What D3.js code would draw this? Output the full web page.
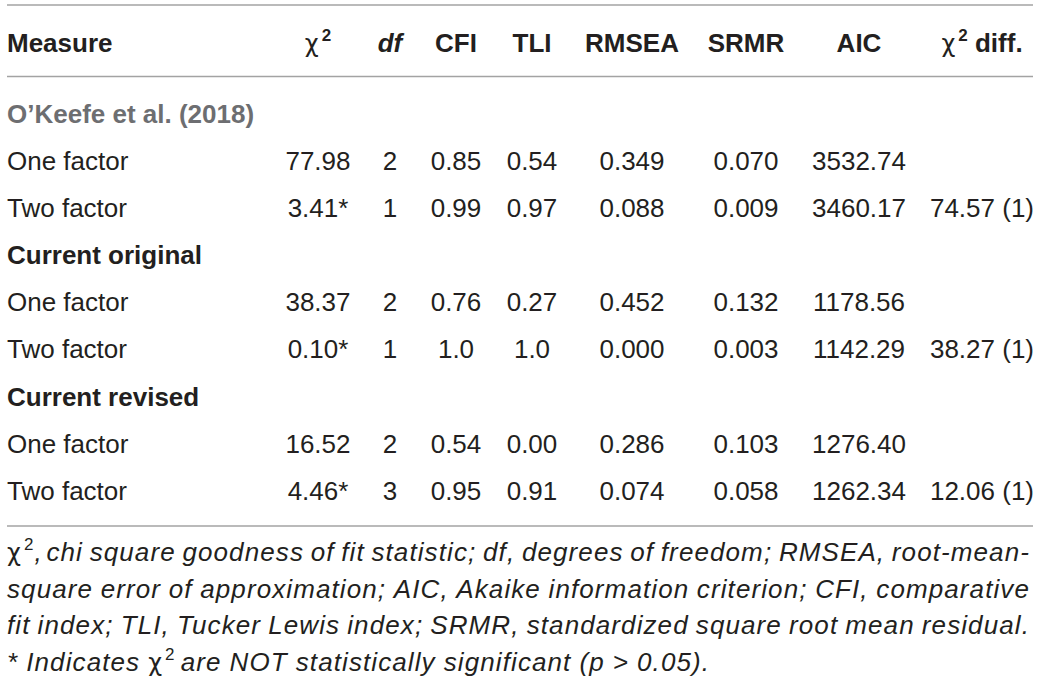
<!DOCTYPE html>
<html>
<head>
<meta charset="utf-8">
<script src="https://cdn.jsdelivr.net/npm/d3@7"></script>
<style>
	body { margin: 0; background: #fff; }
	svg { display: block; font-family: "Liberation Sans", Arial, sans-serif; }
</style>
</head>
<body>
<script>
"use strict";
// table content
const columns = ["Measure", "χ2", "df", "CFI", "TLI", "RMSEA", "SRMR", "AIC", "χ2 diff."];
const sections = ["O’Keefe et al. (2018)", "Current original", "Current revised"];
const models = ["One factor", "Two factor"];
const chiSq = ["77.98", "3.41*", "38.37", "0.10*", "16.52", "4.46*"];
const dfs = ["2", "1", "2", "1", "2", "3"];
const cfi = ["0.85", "0.99", "0.76", "1.0", "0.54", "0.95"];
const tli = ["0.54", "0.97", "0.27", "1.0", "0.00", "0.91"];
const rmsea = ["0.349", "0.088", "0.452", "0.000", "0.286", "0.074"];
const srmr = ["0.070", "0.009", "0.132", "0.003", "0.103", "0.058"];
const aic = ["3532.74", "3460.17", "1178.56", "1142.29", "1276.40", "1262.34"];
const chiDiff = ["", "74.57 (1)", "", "38.27 (1)", "", "12.06 (1)"];
const notes = [
	"χ², chi square goodness of fit statistic; df, degrees of freedom; RMSEA, root-mean-",
	"square error of approximation; AIC, Akaike information criterion; CFI, comparative",
	"fit index; TLI, Tucker Lewis index; SRMR, standardized square root mean residual.",
	"* Indicates χ² are NOT statistically significant (p > 0.05)."
];

const size = {"width": 1040, "height": 693};
const margin = {"left": 7, "right": 1033};
const ink = "#231f20";
const rule = "#a3a3a3";

const svg = d3.select("body").append("svg").attr("width", size.width).attr("height", size.height);

// column centres, first column left aligned
const xScale = d3.scaleOrdinal().domain(columns).range([margin.left, 318, 390, 456, 532, 632, 746, 859, 982]);
const yScale = d3.scaleLinear().domain([0, 8]).range([122.5, 500]);

// rows: section heading followed by its two models
let rows = [];
sections.forEach((s, i) => {
	rows.push({"type": "section", "label": s, "idx": i});
	models.forEach((m, j) => {
		const k = i * 2 + j;
		rows.push({"type": "model", "label": m, "vals": [chiSq[k], dfs[k], cfi[k], tli[k], rmsea[k], srmr[k], aic[k], chiDiff[k]]});
	});
});

// rules
[5, 76.5, 526].forEach(y => {
	svg.append("line").attr("x1", margin.left).attr("x2", margin.right).attr("y1", y).attr("y2", y)
	.attr("stroke", rule).attr("stroke-width", 1.6);
});

// header
const head = svg.append("g").attr("font-size", 26).attr("fill", ink).attr("font-weight", "bold");
columns.forEach((c, i) => {
	const t = head.append("text").attr("x", xScale(c)).attr("y", 52).attr("text-anchor", i == 0 ? "start" : "middle");
	if (c.startsWith("χ")) {
		t.append("tspan").attr("font-weight", "normal").attr("font-family", "DejaVu Sans").attr("font-size", 24).text("χ");
		t.append("tspan").attr("font-size", 17).attr("dy", -11).attr("dx", 3).text("2");
		if (c.length > 2) {
			t.append("tspan").attr("dy", 11).text(" diff.");
		}
	}
	else if (c == "df") {
		t.attr("font-style", "italic").text(c);
	}
	else {
		t.text(c);
	}
});

// body
const body = svg.append("g").attr("font-size", 26).attr("fill", ink);
body.selectAll("text.label")
.data(rows)
.enter()
.append("text")
.attr("class", "label")
.attr("x", margin.left)
.attr("y", (d, i) => yScale(i))
.attr("font-weight", d => d.type == "section" ? "bold" : "normal")
.attr("fill", d => d.type == "section" && d.idx == 0 ? "#6d6e71" : ink)
.text(d => d.label);

rows.forEach((r, i) => {
	if (r.type != "model") return;
	body.selectAll(null)
	.data(r.vals)
	.enter()
	.append("text")
	.attr("x", (d, j) => xScale(columns[j + 1]))
	.attr("y", yScale(i))
	.attr("text-anchor", "middle")
	.text(d => d);
});

// footnote, justified lines
const foot = svg.append("g").attr("font-size", 26).attr("fill", ink).attr("letter-spacing", 1.1);
const footY = d3.scaleLinear().domain([0, 3]).range([561, 671]);
notes.forEach((line, li) => {
	const words = line.split(" ");
	const nodes = words.map(w => {
		const t = foot.append("text").attr("y", footY(li));
		if (w.startsWith("χ²")) {
			t.append("tspan").attr("font-family", "DejaVu Sans").attr("font-size", 24).attr("letter-spacing", 0).text("χ");
			t.append("tspan").attr("font-size", 17).attr("dy", -11).attr("dx", 3).text("2");
			t.append("tspan").attr("dy", 11).attr("font-style", "italic").text(w.slice(2));
		}
		else {
			t.attr("font-style", "italic").text(w);
		}
		return t;
	});
	const widths = nodes.map(n => n.node().getComputedTextLength());
	const total = d3.sum(widths);
	const last = li == notes.length - 1;
	const gap = last ? 8 : (margin.right - 3 - margin.left - total) / (words.length - 1);
	let x = margin.left;
	nodes.forEach((n, i) => {
		n.attr("x", x);
		x += widths[i] + gap;
	});
});
</script>
</body>
</html>
